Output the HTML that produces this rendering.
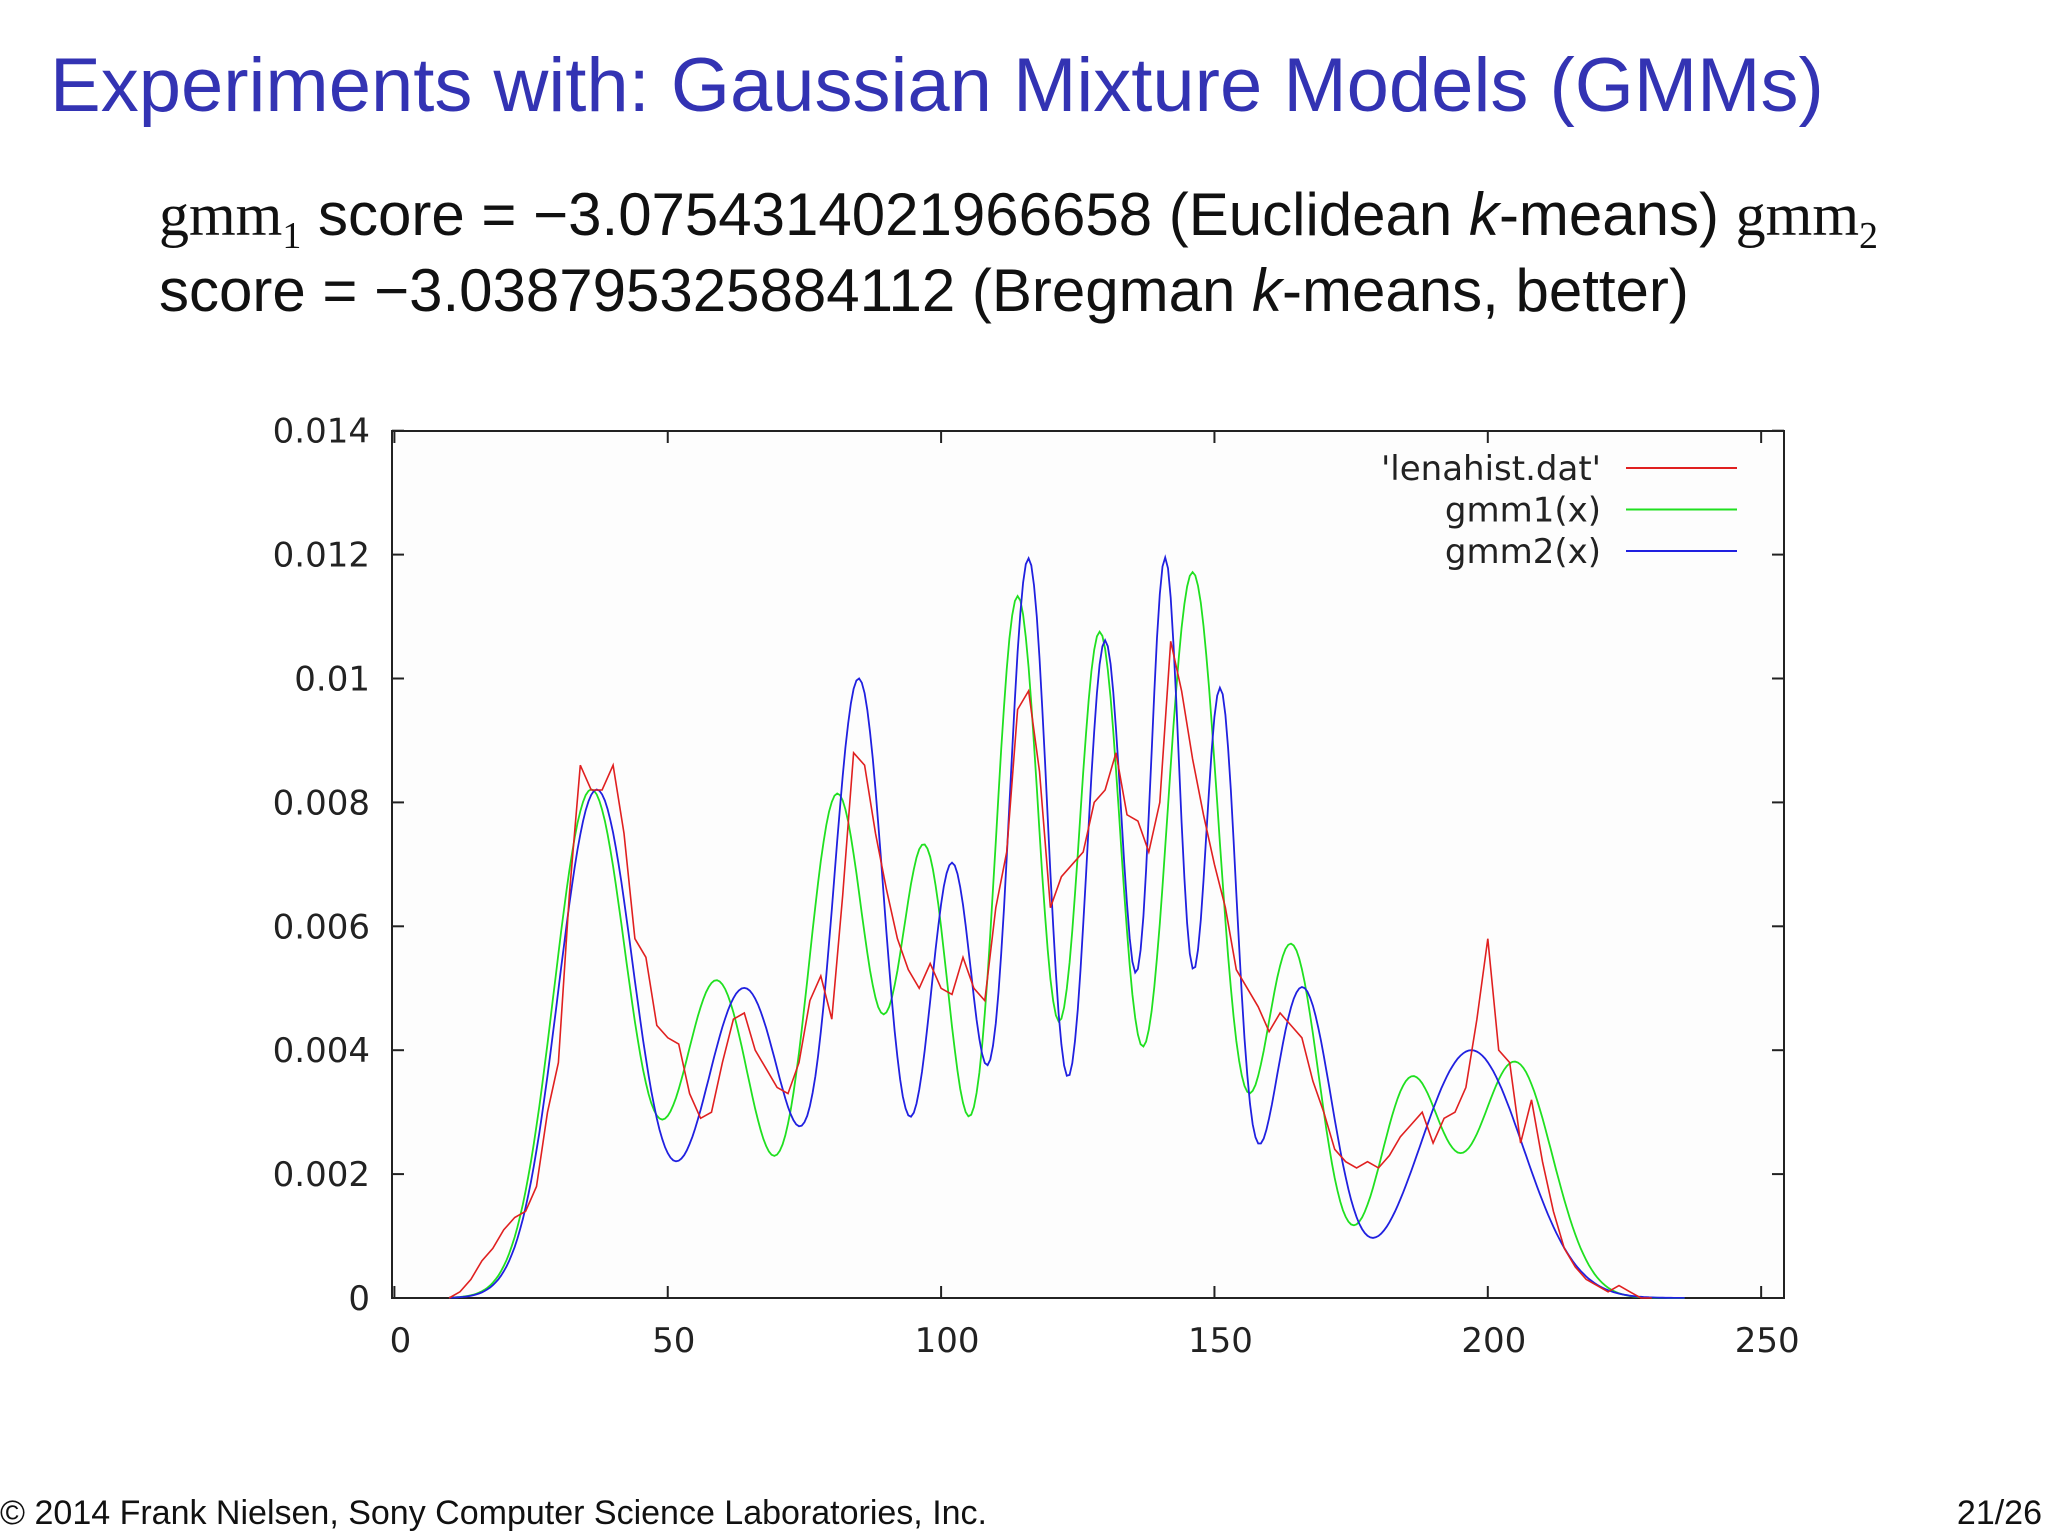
<!DOCTYPE html>
<html><head><meta charset="utf-8"><style>
body{margin:0;width:2048px;height:1536px;background:#fff;overflow:hidden;position:relative;font-family:"Liberation Sans",sans-serif}
.t{position:absolute;white-space:nowrap}
</style></head><body>
<div class="t" style="left:50px;top:42px;font-size:76px;color:#3333b3">Experiments with: Gaussian Mixture Models (GMMs)</div>
<div class="t" style="left:159px;top:180px;font-size:60px;color:#111"><span style="font-family:'Liberation Serif',serif">gmm<sub style="font-size:38px">1</sub></span> score = −3.0754314021966658 (Euclidean <i>k</i>-means) <span style="font-family:'Liberation Serif',serif">gmm<sub style="font-size:38px">2</sub></span></div>
<div class="t" style="left:159px;top:256px;font-size:60px;color:#111">score = −3.038795325884112 (Bregman <i>k</i>-means, better)</div>
<svg id="chart" width="2048" height="1536" style="position:absolute;left:0;top:0" font-family="DejaVu Sans, sans-serif"></svg>
<div class="t" style="left:0;top:1494px;font-size:34px;color:#111">© 2014 Frank Nielsen, Sony Computer Science Laboratories, Inc.</div>
<div class="t" style="right:6px;top:1494px;font-size:34px;color:#111">21/26</div>
<script>
const xTicks=[0,50,100,150,200,250];
const yTicks=[0,0.002,0.004,0.006,0.008,0.01,0.012,0.014];
const yTickLabels=["0","0.002","0.004","0.006","0.008","0.01","0.012","0.014"];
const histX=[];for(let v=10;v<=230;v+=2)histX.push(v);
const histY=[0,0.0001,0.0003,0.0006,0.0008,0.0011,0.0013,0.0014,0.0018,0.003,0.0038,0.0065,0.0086,0.0082,0.0082,0.0086,0.0075,0.0058,0.0055,0.0044,0.0042,0.0041,0.0033,0.0029,0.0030,0.0038,0.0045,0.0046,0.0040,0.0037,0.0034,0.0033,0.0038,0.0048,0.0052,0.0045,0.0065,0.0088,0.0086,0.0075,0.0066,0.0058,0.0053,0.0050,0.0054,0.0050,0.0049,0.0055,0.0050,0.0048,0.0063,0.0072,0.0095,0.0098,0.0085,0.0063,0.0068,0.0070,0.0072,0.0080,0.0082,0.0088,0.0078,0.0077,0.0072,0.0080,0.0106,0.0098,0.0087,0.0078,0.0070,0.0063,0.0053,0.0050,0.0047,0.0043,0.0046,0.0044,0.0042,0.0035,0.0030,0.0024,0.0022,0.0021,0.0022,0.0021,0.0023,0.0026,0.0028,0.0030,0.0025,0.0029,0.0030,0.0034,0.0045,0.0058,0.0040,0.0038,0.0025,0.0032,0.0022,0.0014,0.0008,0.0005,0.0003,0.0002,0.0001,0.0002,0.0001,0,0];
const gmm1Means=[36,59,81,97,114,129,146,164,186,205];
const gmm1Peaks=[0.0082,0.0051,0.0081,0.0072,0.0113,0.0107,0.0117,0.0057,0.0035,0.0038];
const gmm1Sigmas=[6.8,6.5,5.5,4.8,4.2,4.2,5,5.2,5.8,6.8];
const gmm2Means=[37,64,85,102,116,130,141,151,166,197];
const gmm2Peaks=[0.0082,0.0050,0.0099,0.0070,0.0119,0.0106,0.0118,0.0097,0.0050,0.0040];
const gmm2Sigmas=[7,7.5,4.8,4.3,3.7,3.6,2.9,3.1,5.5,9.5];
const legendLabels=["'lenahist.dat'","gmm1(x)","gmm2(x)"];
const colors=["#e02020","#20e020","#2020e0"];

const svg=document.getElementById('chart');const NS='http://www.w3.org/2000/svg';
const L=392,R=1784,T=431,B=1298;
const sx=x=>394.4+x*5.467;
const sy=y=>B-y*61950;
function mk(tag,attrs,name){const e=document.createElementNS(NS,tag);for(const k in attrs)e.setAttribute(k,attrs[k]);


svg.appendChild(e);return e;}
mk('rect',{x:L,y:T,width:R-L,height:B-T,fill:'#fdfdfd',stroke:'#222','stroke-width':2},'plot-frame');
yTicks.forEach((v,i)=>{const y=sy(v);
mk('line',{x1:L,x2:L+12,y1:y,y2:y,stroke:'#222','stroke-width':2},'y-tick');
mk('line',{x1:R-12,x2:R,y1:y,y2:y,stroke:'#222','stroke-width':2},'y-tick-right');
const t=mk('text',{x:370,y:y+12,'text-anchor':'end','font-size':34,fill:'#222'},'y-tick-label');t.textContent=yTickLabels[i];});
xTicks.forEach(v=>{const x=sx(v);
mk('line',{x1:x,x2:x,y1:B,y2:B-12,stroke:'#222','stroke-width':2},'x-tick');
mk('line',{x1:x,x2:x,y1:T,y2:T+12,stroke:'#222','stroke-width':2},'x-tick-top');
const t=mk('text',{x:x+6,y:1352,'text-anchor':'middle','font-size':34,fill:'#222'},'x-tick-label');t.textContent=v;});
function mix(m,p,s,x){let v=0;for(let i=0;i<m.length;i++)v+=p[i]*Math.exp(-((x-m[i])**2)/(2*s[i]*s[i]));return v;}
function curve(m,p,s){let d='';for(let x=10;x<=236;x+=0.5){d+=(d?'L':'M')+sx(x).toFixed(1)+','+sy(mix(m,p,s,x)).toFixed(1);}return d;}
mk('path',{d:curve(gmm1Means,gmm1Peaks,gmm1Sigmas),fill:'none',stroke:colors[1],'stroke-width':1.8},'gmm1-line');
mk('path',{d:curve(gmm2Means,gmm2Peaks,gmm2Sigmas),fill:'none',stroke:colors[2],'stroke-width':1.8},'gmm2-line');
let hd='';histX.forEach((x,i)=>{hd+=(i?'L':'M')+sx(x).toFixed(1)+','+sy(histY[i]).toFixed(1);});
mk('path',{d:hd,fill:'none',stroke:colors[0],'stroke-width':1.6},'lenahist-line');
legendLabels.forEach((s,i)=>{const y=468+i*41.5;
const t=mk('text',{x:1601,y:y+12,'text-anchor':'end','font-size':34,fill:'#222'},'legend-label');t.textContent=s;
mk('line',{x1:1626,x2:1737,y1:y,y2:y,stroke:colors[i],'stroke-width':2},'legend-swatch');});
</script>
</body></html>
